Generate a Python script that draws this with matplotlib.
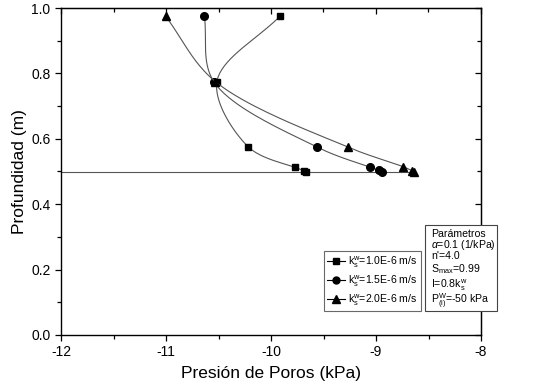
import numpy as np
import matplotlib
matplotlib.use("Agg")
import matplotlib.pyplot as plt
from matplotlib.lines import Line2D
from matplotlib.patches import Rectangle

plt.rcParams["font.family"] = ["Liberation Sans", "DejaVu Sans"]
plt.rcParams["mathtext.fontset"] = "custom"
plt.rcParams["mathtext.rm"] = "Liberation Sans"
plt.rcParams["mathtext.it"] = "Liberation Sans:italic"

# pore pressure (kPa) vs depth (m), one series per k^w_s
depth_sq = [0.975, 0.775, 0.575, 0.5125, 0.5025, 0.5]
pres_sq = [-9.915, -10.515, -10.215, -9.77, -9.685, -9.665]

depth_ci = [0.975, 0.775, 0.575, 0.5135, 0.5035, 0.5]
pres_ci = [-10.635, -10.545, -9.563, -9.06, -8.975, -8.945]

depth_tr = [0.975, 0.775, 0.575, 0.515, 0.5025, 0.5]
pres_tr = [-11.004, -10.53, -9.27, -8.744, -8.655, -8.635]

# water table line
wt_depth = [0.5, 0.5]
wt_pres = [-12.0, -8.635]

legend_labels = [r"k$^{\rm w}_{\rm s}$=1.0E-6 m/s",
                 r"k$^{\rm w}_{\rm s}$=1.5E-6 m/s",
                 r"k$^{\rm w}_{\rm s}$=2.0E-6 m/s"]
param_lines = ["Parámetros",
               r"$\alpha$=0.1 (1/kPa)",
               "n'=4.0",
               r"S$_{\rm max}$=0.99",
               r"I=0.8k$^{\rm w}_{\rm s}$",
               r"P$^{\rm W}_{\rm (i)}$=-50 kPa"]

LINE_COLOR = "#555555"
BOX_COLOR = "#444444"


def smooth(xs, ys, n=40):
    """centripetal Catmull-Rom through the points, done in roughly
    screen-proportional units so the bends look like Origin's spline."""
    sx, sy = 105.0, 327.0
    p = np.column_stack([np.asarray(xs) * sx, np.asarray(ys) * sy])
    p = np.vstack([2 * p[0] - p[1], p, 2 * p[-1] - p[-2]])
    out = []
    for i in range(1, len(p) - 2):
        p0, p1, p2, p3 = p[i - 1], p[i], p[i + 1], p[i + 2]
        t0 = 0.0
        t1 = t0 + max(np.linalg.norm(p1 - p0), 1e-6) ** 0.5
        t2 = t1 + max(np.linalg.norm(p2 - p1), 1e-6) ** 0.5
        t3 = t2 + max(np.linalg.norm(p3 - p2), 1e-6) ** 0.5
        t = np.linspace(t1, t2, n)[:, None]
        a1 = (t1 - t) / (t1 - t0) * p0 + (t - t0) / (t1 - t0) * p1
        a2 = (t2 - t) / (t2 - t1) * p1 + (t - t1) / (t2 - t1) * p2
        a3 = (t3 - t) / (t3 - t2) * p2 + (t - t2) / (t3 - t2) * p3
        b1 = (t2 - t) / (t2 - t0) * a1 + (t - t0) / (t2 - t0) * a2
        b2 = (t3 - t) / (t3 - t1) * a2 + (t - t1) / (t3 - t1) * a3
        c = (t2 - t) / (t2 - t1) * b1 + (t - t1) / (t2 - t1) * b2
        out.append(c)
    c = np.vstack(out)
    return c[:, 0] / sx, c[:, 1] / sy


W, H = 553, 388
fig = plt.figure(figsize=(W / 100, H / 100), dpi=100)
ax = fig.add_axes([61 / W, 1 - 335 / H, 420 / W, 327 / H])

ax.plot(wt_pres, wt_depth, color=LINE_COLOR, lw=0.8)

series = [(pres_sq, depth_sq, "s", 5), (pres_ci, depth_ci, "o", 5.5), (pres_tr, depth_tr, "^", 6)]
handles = []
for (px, py, mk, ms), lab in zip(series, legend_labels):
    cx, cy = smooth(px, py)
    ax.plot(cx, cy, color=LINE_COLOR, lw=0.8)
    ax.plot(px, py, ls="none", marker=mk, ms=ms, color="black")
    handles.append(Line2D([], [], color="black", lw=0.8, marker=mk, ms=ms - 0.5))

ax.set_xlim(-12, -8)
ax.set_ylim(0.0, 1.0)
ax.set_xticks(np.arange(-12, -7.9, 1))
ax.set_xticks(np.arange(-11.5, -8, 1), minor=True)
ax.set_yticks(np.arange(0, 1.01, 0.2))
ax.set_yticks(np.arange(0.1, 1.0, 0.2), minor=True)
ax.set_xticklabels([f"{v:d}" for v in range(-12, -7)])
ax.set_yticklabels([f"{v:.1f}" for v in np.arange(0, 1.01, 0.2)])
ax.tick_params(which="both", direction="out", labelsize=10, width=0.9)
ax.tick_params(which="major", length=4)
ax.tick_params(which="minor", length=3)
for spine in ax.spines.values():
    spine.set_linewidth(1.0)

# mirrored inward ticks on the top and right
sec_x = ax.secondary_xaxis("top")
sec_x.set_xticks(np.arange(-12, -7.9, 1))
sec_x.set_xticks(np.arange(-11.5, -8, 1), minor=True)
sec_x.tick_params(which="both", direction="in", labeltop=False, width=0.9)
sec_x.tick_params(which="major", length=4)
sec_x.tick_params(which="minor", length=3)
sec_y = ax.secondary_yaxis("right")
sec_y.set_yticks(np.arange(0, 1.01, 0.2))
sec_y.set_yticks(np.arange(0.1, 1.0, 0.2), minor=True)
sec_y.tick_params(which="both", direction="in", labelright=False, width=0.9)
sec_y.tick_params(which="major", length=4)
sec_y.tick_params(which="minor", length=3)

ax.set_xlabel("Presión de Poros (kPa)", fontsize=12.5, labelpad=5)
ax.set_ylabel("Profundidad (m)", fontsize=12.5, labelpad=3)

leg = ax.legend(handles, legend_labels, loc="lower right",
                bbox_to_anchor=(421 / W, 1 - 311 / H),
                bbox_transform=fig.transFigure, fontsize=7.6, frameon=True,
                fancybox=False, edgecolor=BOX_COLOR, handlelength=1.7,
                handletextpad=0.35, borderpad=0.3, labelspacing=0.35,
                borderaxespad=0.0)
leg.get_frame().set_linewidth(0.8)

# parameters box, sits partly outside the axes on the right
fig.add_artist(Rectangle((425 / W, 1 - 311 / H), 72 / W, 86 / H,
                         transform=fig.transFigure, fc="white", ec=BOX_COLOR, lw=0.8))
param_baselines = [237, 248, 259, 272, 288, 304]
for line, yb in zip(param_lines, param_baselines):
    fig.text(431 / W, 1 - yb / H, line, fontsize=7.6, va="baseline", ha="left")

fig.savefig("out.png", dpi=100)
